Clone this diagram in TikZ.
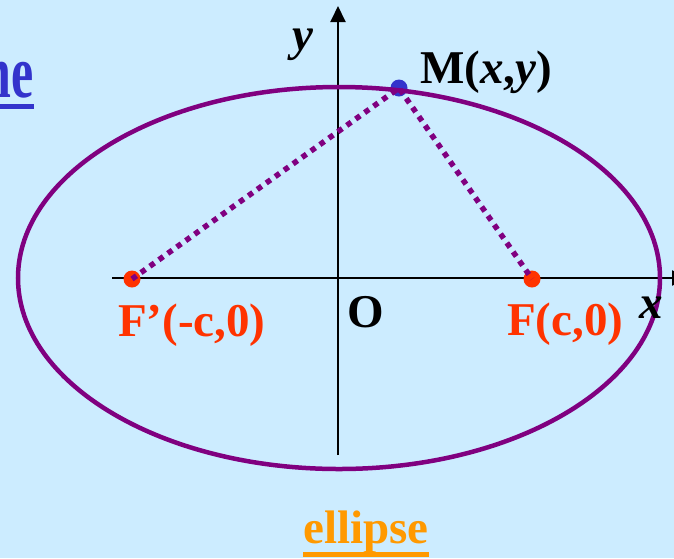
\documentclass[tikz,border=0pt]{standalone}
\usepackage{fontspec}
\setmainfont{Liberation Serif}
\usetikzlibrary{arrows.meta}
\definecolor{bgblue}{RGB}{204,236,255}
\definecolor{ellpurple}{RGB}{128,0,128}
\definecolor{focired}{RGB}{255,51,0}
\definecolor{ptblue}{RGB}{51,51,204}
\definecolor{ellorange}{RGB}{255,153,0}

\begin{document}
\begin{tikzpicture}[
      x=1pt, y=-1pt,
      font=\fontsize{47}{52}\selectfont\bfseries,
      lbl/.style={inner sep=0pt, anchor=base west},
      axis/.style={line width=2pt, -{Triangle[length=16pt,width=15pt]}},
      dist/.style={ellpurple, line width=5.5pt, dash pattern=on 5.5pt off 5.5pt},
      pt/.style={circle, inner sep=0pt, minimum size=17pt},
      uline/.style={line width=5pt},
    ]
    \fill[bgblue] (0,0) rectangle (674,558);
    \useasboundingbox (0,0) rectangle (674,558);
    % axes
    \coordinate (o) at (338,278);
    \coordinate (xl) at (112,278);
    \coordinate (xr) at (688,278);
    \coordinate (yb) at (338,455);
    \coordinate (yt) at (338,6);
    \draw[axis] (xl) -- (xr);
    \draw[axis] (yb) -- (yt);
    % points
    \node[pt, fill=focired] (fleft) at (132,279) {};
    \node[pt, fill=focired] (fright) at (532,279) {};
    \node[pt, fill=ptblue] (mpt) at (399,88) {};
    \draw[ellpurple, line width=4.5pt] (339,278) ellipse [x radius=321pt, y radius=191pt];
    \draw[dist] (fleft.center) -- (mpt.center) -- (fright.center);
    % labels
    \node[lbl] (ylab) at (292,50) {\itshape y};
    \node[lbl] (mlab) at (420,83) {M(\textit{x},\textit{y})};
    \node[lbl, text=focired] (fleftlab) at (118,336) {F’(-c,0)};
    \node[lbl] (olab) at (347,327) {O};
    \node[lbl, text=focired] (frightlab) at (507,335) {F(c,0)};
    \node[lbl] (xlab) at (639,318) {\itshape x};
    \node[lbl, text=ellorange] (ellname) at (303,543) {ellipse};
    \draw[uline, ellorange] ([yshift=-11pt]ellname.base west) -- ([yshift=-11pt]ellname.base east);
    \node[inner sep=0pt, anchor=base east, text=ptblue, font=\fontsize{50}{55}\selectfont\bfseries]
      (topword) at (34,97) {\scalebox{1}[1.5]{ne}};
    \draw[uline, ptblue] ([yshift=-9pt]topword.base west) -- ([yshift=-9pt]topword.base east);
  \end{tikzpicture}
\end{document}
